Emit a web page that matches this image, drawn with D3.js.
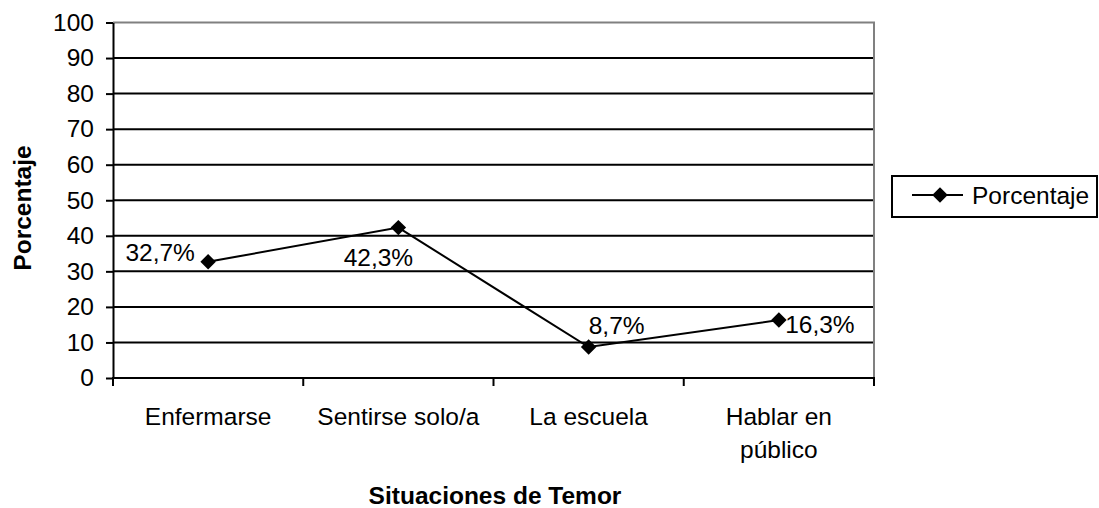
<!DOCTYPE html>
<html><head><meta charset="utf-8">
<script src="https://cdn.jsdelivr.net/npm/d3@7"></script>
<style>body{margin:0;background:#fff}svg{display:block}text{font-family:Arial,"Liberation Sans",sans-serif}</style>
</head><body>
<svg id="c" width="1099" height="508"></svg>
<script>
const categories = [["Enfermarse"],["Sentirse solo/a"],["La escuela"],["Hablar en","público"]];
const values = [32.7, 42.3, 8.7, 16.3];
const labels = ["32,7%","42,3%","8,7%","16,3%"];
const yTicks = [0,10,20,30,40,50,60,70,80,90,100];
const seriesName = "Porcentaje";
const yTitle = "Porcentaje";
const xTitle = "Situaciones de Temor";

const svg = d3.select("#c");
const L=113, R=874, T=22.5, B=378;
const fs = 24.5;
const x = d3.scaleBand().domain(d3.range(categories.length)).range([L,R]).padding(0);
const y = d3.scaleLinear().domain([0,100]).range([B,T]);

// gridlines
svg.append("g").selectAll("line").data(yTicks.filter(d=>d>0&&d<100)).join("line")
  .attr("x1",L).attr("x2",R).attr("y1",d=>y(d)).attr("y2",d=>y(d))
  .attr("stroke","#000").attr("stroke-width",2);
// gray border top/right
svg.append("path").attr("d",`M${L},${y(100)}H${R}V${B}`).attr("fill","none").attr("stroke","#808080").attr("stroke-width",2);

// y axis
const ya = svg.append("g").attr("transform",`translate(${L},0)`)
  .call(d3.axisLeft(y).tickValues(yTicks).tickSize(7).tickPadding(12).tickSizeOuter(0));
ya.select(".domain").attr("stroke","#000").attr("stroke-width",2);
ya.selectAll(".tick line").attr("stroke","#000").attr("stroke-width",2);
ya.selectAll(".tick text").attr("font-size",fs).attr("fill","#000").attr("font-family","Arial, 'Liberation Sans', sans-serif");

// x axis
const xa = svg.append("g").attr("transform",`translate(0,${B})`);
xa.append("line").attr("x1",L).attr("x2",R).attr("y1",0).attr("y2",0).attr("stroke","#000").attr("stroke-width",2);
const edges = d3.range(categories.length+1).map(i=> i<categories.length ? x(i) : x(i-1)+x.bandwidth());
xa.selectAll("line.t").data(edges).join("line").attr("class","t")
  .attr("x1",d=>d).attr("x2",d=>d).attr("y1",-1).attr("y2",8).attr("stroke","#000").attr("stroke-width",2);
const ct = xa.selectAll("text.c").data(categories).join("text").attr("class","c")
  .attr("x",(d,i)=>x(i)+x.bandwidth()/2).attr("y",47).attr("text-anchor","middle").attr("font-size",fs);
ct.selectAll("tspan").data(d=>d).join("tspan").attr("x",function(){return this.parentNode.getAttribute("x");})
  .attr("dy",(d,i)=>i?33:0).text(d=>d);

// line
const cx = i=>x(i)+x.bandwidth()/2;
svg.append("path").datum(values).attr("fill","none").attr("stroke","#000").attr("stroke-width",2)
  .attr("d",d3.line().x((d,i)=>cx(i)).y(d=>y(d)));
const diamond = d3.symbol().type(d3.symbolSquare).size(120);
svg.append("g").selectAll("path").data(values).join("path")
  .attr("d",diamond).attr("fill","#000")
  .attr("transform",(d,i)=>`translate(${cx(i)},${y(d)}) rotate(45)`);

// data labels (Excel-like placement offsets)
const lblOff = [[-48,-9],[-20,30],[28,-22],[41,4]];
svg.append("g").selectAll("text").data(values).join("text")
  .attr("x",(d,i)=>cx(i)+lblOff[i][0]).attr("y",(d,i)=>y(d)+lblOff[i][1])
  .attr("text-anchor","middle").attr("dominant-baseline","central").attr("font-size",fs).text((d,i)=>labels[i]);

// titles
svg.append("text").attr("transform",`translate(31,208) rotate(-90)`).attr("text-anchor","middle")
  .attr("font-size",fs).attr("font-weight","bold").text(yTitle);
svg.append("text").attr("x",495).attr("y",504).attr("text-anchor","middle")
  .attr("font-size",fs).attr("font-weight","bold").text(xTitle);

// legend
const lg = svg.append("g");
lg.append("rect").attr("x",892).attr("y",176).attr("width",205).attr("height",41).attr("fill","#fff").attr("stroke","#000").attr("stroke-width",2);
lg.append("line").attr("x1",912).attr("x2",963).attr("y1",195).attr("y2",195).attr("stroke","#000").attr("stroke-width",2);
lg.append("path").attr("d",diamond).attr("fill","#000").attr("transform","translate(940,195) rotate(45)");
lg.append("text").attr("x",972).attr("y",195).attr("dominant-baseline","central").attr("font-size",fs).text(seriesName);
</script>
</body></html>
